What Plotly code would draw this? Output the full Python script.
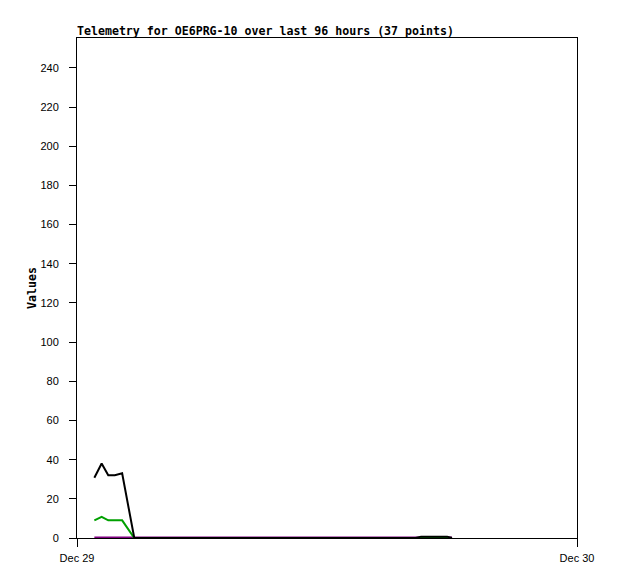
import plotly.graph_objects as go

times = [
    "2023-12-29 00:50", "2023-12-29 01:11", "2023-12-29 01:30", "2023-12-29 01:49",
    "2023-12-29 02:10", "2023-12-29 02:45", "2023-12-29 03:15", "2023-12-29 03:45",
    "2023-12-29 04:15", "2023-12-29 04:45", "2023-12-29 05:15", "2023-12-29 05:45",
    "2023-12-29 06:15", "2023-12-29 06:45", "2023-12-29 07:15", "2023-12-29 07:45",
    "2023-12-29 08:15", "2023-12-29 08:45", "2023-12-29 09:15", "2023-12-29 09:45",
    "2023-12-29 10:15", "2023-12-29 10:45", "2023-12-29 11:15", "2023-12-29 11:45",
    "2023-12-29 12:15", "2023-12-29 12:45", "2023-12-29 13:15", "2023-12-29 13:45",
    "2023-12-29 14:15", "2023-12-29 14:45", "2023-12-29 15:20", "2023-12-29 16:15",
    "2023-12-29 16:31", "2023-12-29 17:00", "2023-12-29 17:25", "2023-12-29 17:46",
    "2023-12-29 18:00",
]

series_purple = [0] * 37
series_green = [9, 10.8, 9, 9, 9] + [0] * 32
series_black = [30.8, 38, 32, 32, 33] + [0] * 27 + [0.7, 0.7, 0.7, 0.7, 0]

tick_vals_y = [0, 20, 40, 60, 80, 100, 120, 140, 160, 180, 200, 220, 240]
x_ticks = ["2023-12-29 00:00", "2023-12-30 00:00"]
x_tick_labels = ["Dec 29", "Dec 30"]

fig = go.Figure()
fig.add_trace(go.Scatter(x=times, y=series_purple, mode="lines",
                         line=dict(color="#800080", width=3), showlegend=False))
fig.add_trace(go.Scatter(x=times, y=series_green, mode="lines",
                         line=dict(color="#00a000", width=2), showlegend=False))
fig.add_trace(go.Scatter(x=times, y=series_black, mode="lines",
                         line=dict(color="#000000", width=2), showlegend=False))

fig.update_layout(
    width=618, height=579,
    margin=dict(l=77, r=41, t=38, b=41),
    paper_bgcolor="white", plot_bgcolor="white",
    title=dict(text="<b>Telemetry for OE6PRG-10 over last 96 hours (37 points)</b>",
               x=77 / 618, xanchor="left", y=1 - 31 / 579, yanchor="middle",
               font=dict(family="DejaVu Sans Mono", size=11.6, color="black")),
    xaxis=dict(range=x_ticks, tickvals=x_ticks, ticktext=x_tick_labels,
               showgrid=False, zeroline=False, showline=True, mirror=True,
               linecolor="black", linewidth=1, ticks="outside", ticklen=8,
               tickcolor="black", ticklabelstandoff=2, layer="below traces",
               tickfont=dict(family="Liberation Sans", size=11, color="black")),
    yaxis=dict(range=[0, 255.3], tickvals=tick_vals_y,
               showgrid=False, zeroline=False, showline=True, mirror=True,
               linecolor="black", linewidth=1, ticks="outside", ticklen=7,
               tickcolor="black", ticklabelstandoff=8, layer="below traces",
               tickfont=dict(family="Liberation Sans", size=11, color="black"),
               title=dict(text="<b>Values</b>", standoff=1,
                          font=dict(family="DejaVu Sans Mono", size=11.6, color="black"))),
)

fig.write_html("out.html", post_script="document.body.style.margin='0';",
               config={"displayModeBar": False})
